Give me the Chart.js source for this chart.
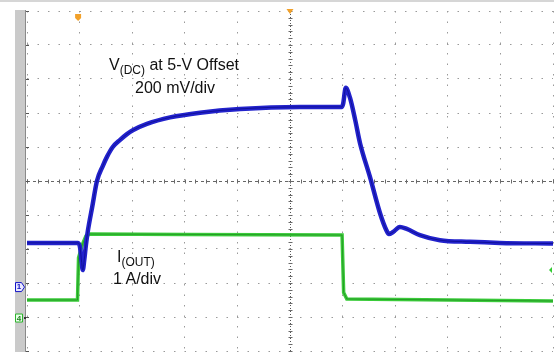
<!DOCTYPE html>
<html>
<head>
<meta charset="utf-8">
<script src="https://cdn.jsdelivr.net/npm/chart.js@4/dist/chart.umd.min.js"></script>
<style>
  html, body { margin: 0; padding: 0; background: #fff; }
  #wrap { position: relative; width: 554px; height: 352px; overflow: hidden; font-family: "Liberation Sans", Arial, sans-serif; color: #111; }
  canvas { position: absolute; left: 0; top: 0; }
  .lbl { position: absolute; white-space: nowrap; line-height: 1; }
  .lbl sub { font-size: 12px; vertical-align: -4px; line-height: 0; }
  .flag { position: absolute; font-size: 8px; line-height: 8px; font-weight: bold; text-align: center; }
</style>
</head>
<body>
<div id="wrap">
  <canvas id="c" width="554" height="352"></canvas>
  <div class="lbl" id="vlab" style="left:109px; top:57px; font-size:16px;">V<sub>(DC)</sub> at 5-V Offset</div>
  <div class="lbl" id="vdiv" style="left:135px; top:80px; font-size:16px;">200 mV/div</div>
  <div class="lbl" id="ilab" style="left:117px; top:249px; font-size:16px;">I<sub>(OUT)</sub></div>
  <div class="lbl" id="idiv" style="left:113px; top:271px; font-size:16px;">1 A/div</div>
  <div class="flag" style="left:16px; top:283px; width:6px; color:#1010c0;">1</div>
  <div class="flag" style="left:16px; top:315px; width:6px; color:#208020;">4</div>
</div>
<script>
// Time axis in divisions (0..10), amplitude in divisions (0..10, bottom to top)
const vTime = [0, 0.97, 1.01, 1.04, 1.06, 1.09, 1.12, 1.16, 1.24, 1.33, 1.44, 1.52, 1.63, 1.77, 1.90, 2.02, 2.28, 2.72, 3.29, 4.05, 5.19, 5.99, 6.01, 6.06, 6.14, 6.24, 6.33, 6.52, 6.71, 6.83, 6.88, 6.96, 7.09, 7.22, 7.47, 7.85, 8.42, 8.99, 10.0];
const vOut  = [3.18, 3.18, 3.03, 2.6, 2.38, 2.7, 3.12, 3.56, 4.24, 5.0, 5.44, 5.71, 6.0, 6.21, 6.38, 6.50, 6.68, 6.87, 7.01, 7.12, 7.18, 7.18, 7.27, 7.74, 7.45, 6.79, 6.12, 5.12, 4.06, 3.56, 3.44, 3.50, 3.65, 3.59, 3.41, 3.26, 3.21, 3.18, 3.16];

const iTime = [0, 0.96, 0.98, 1.05, 1.12, 1.20, 3.0, 5.99, 6.02, 6.08, 10.0];
const iOut  = [1.50, 1.50, 2.74, 3.12, 3.38, 3.44, 3.43, 3.41, 1.72, 1.53, 1.47];

const gridTicks = [0,1,2,3,4,5,6,7,8,9,10];
const chLevels = { ch1: 1.88, ch4: 0.97 };

const toPts = (xs, ys) => xs.map((x, i) => ({ x: x, y: ys[i] }));

const decor = {
  id: 'decor',
  beforeDraw(chart) {
    const c = chart.ctx;
    c.save();
    c.fillStyle = '#fff';
    c.fillRect(0, 0, chart.width, chart.height);
    c.fillStyle = '#d6d6d6';
    c.fillRect(0, 0, chart.width, 2);
    c.fillStyle = '#cacaca';
    c.fillRect(15, 10, 10, chart.height - 10);
    c.fillStyle = '#8a8a8a';
    c.fillRect(25, 10, 1, chart.height - 10);
    c.restore();
  },
  beforeDatasetsDraw(chart) {
    const c = chart.ctx, xs = chart.scales.x, ys = chart.scales.y;
    const cx = Math.round(xs.getPixelForValue(5)) + 0.5;
    const cy = Math.round(ys.getPixelForValue(5)) + 0.5;
    const a = chart.chartArea;
    c.save();
    c.strokeStyle = '#6a6a6a';
    c.lineWidth = 1;
    for (let v = 0; v <= 10.001; v += 0.2) {
      const px = Math.round(xs.getPixelForValue(v)) + 0.5;
      c.beginPath(); c.moveTo(px, cy - 2); c.lineTo(px, cy + 2); c.stroke();
      const py = Math.round(ys.getPixelForValue(v)) + 0.5;
      c.beginPath(); c.moveTo(cx - 2, py); c.lineTo(cx + 2, py); c.stroke();
    }
    c.strokeStyle = '#555';
    for (const v of gridTicks) {
      const py = Math.round(ys.getPixelForValue(v)) + 0.5;
      c.beginPath(); c.moveTo(a.left - 1, py); c.lineTo(a.left + 2, py); c.stroke();
    }
    c.restore();
  },
  afterDatasetsDraw(chart) {
    const c = chart.ctx, xs = chart.scales.x, ys = chart.scales.y;
    c.save();
    c.fillStyle = '#f2a12a';
    const tx = xs.getPixelForValue(1) - 1.5;
    c.beginPath();
    c.moveTo(tx - 3, 14); c.lineTo(tx + 3, 14); c.lineTo(tx + 3, 18); c.lineTo(tx, 21); c.lineTo(tx - 3, 18); c.closePath(); c.fill();
    const mx = xs.getPixelForValue(5);
    c.beginPath(); c.moveTo(mx - 3.5, 9); c.lineTo(mx + 3.5, 9); c.lineTo(mx, 14); c.closePath(); c.fill();
    const y1 = ys.getPixelForValue(chLevels.ch1);
    c.fillStyle = '#e8e8ff'; c.strokeStyle = '#1414c8'; c.lineWidth = 1;
    c.beginPath();
    c.moveTo(15.5, y1 - 4.5); c.lineTo(21.5, y1 - 4.5); c.lineTo(24.5, y1); c.lineTo(21.5, y1 + 4.5); c.lineTo(15.5, y1 + 4.5); c.closePath();
    c.fill(); c.stroke();
    const y4 = ys.getPixelForValue(chLevels.ch4);
    c.fillStyle = '#eaffea'; c.strokeStyle = '#2cb42c';
    c.beginPath();
    c.moveTo(15.5, y4 - 4); c.lineTo(22.5, y4 - 4); c.lineTo(22.5, y4 + 4); c.lineTo(15.5, y4 + 4); c.closePath();
    c.fill(); c.stroke();
    c.fillStyle = '#333'; c.fillRect(24, y4 - 1, 2, 2);
    const gy = ys.getPixelForValue(2.38);
    c.fillStyle = '#33cc33';
    c.beginPath(); c.moveTo(552, gy - 3); c.lineTo(549, gy); c.lineTo(552, gy + 3); c.closePath(); c.fill();
    c.restore();
  }
};

new Chart(document.getElementById('c'), {
  type: 'line',
  data: {
    datasets: [
      { label: 'V(DC)', data: toPts(vTime, vOut), borderColor: '#2222cc', borderWidth: 4.5, pointRadius: 0, cubicInterpolationMode: 'monotone', order: 1 },
      { label: 'V(DC) core', data: toPts(vTime, vOut), borderColor: '#10109a', borderWidth: 1, pointRadius: 0, cubicInterpolationMode: 'monotone', order: 0 },
      { label: 'I(OUT)', data: toPts(iTime, iOut), borderColor: '#3acb3a', borderWidth: 3.5, pointRadius: 0, tension: 0, order: 2 },
      { label: 'I(OUT) core', data: toPts(iTime, iOut), borderColor: '#1f8f1f', borderWidth: 0.8, pointRadius: 0, tension: 0, order: 1.5 }
    ]
  },
  options: {
    responsive: false,
    animation: false,
    devicePixelRatio: 1,
    layout: { padding: { left: 27, right: 1, top: 11, bottom: 1 } },
    plugins: { legend: { display: false }, tooltip: { enabled: false } },
    scales: {
      x: {
        type: 'linear', min: 0, max: 10,
        ticks: { display: false, stepSize: 1 },
        grid: { drawTicks: false, color: ctx => (ctx.tick && ctx.tick.value === 5) ? '#555' : '#9a9a9a', lineWidth: 1 },
        border: { display: false, dash: ctx => (ctx.tick && ctx.tick.value === 5) ? [1, 2] : [1.5, 9] }
      },
      y: {
        type: 'linear', min: 0, max: 10,
        ticks: { display: false, stepSize: 1 },
        grid: { drawTicks: false, color: ctx => (ctx.tick && ctx.tick.value === 5) ? '#666' : '#9a9a9a', lineWidth: 1 },
        border: { display: false, dash: ctx => (ctx.tick && ctx.tick.value === 5) ? [3, 3] : [1.5, 9] }
      }
    }
  },
  plugins: [decor]
});
</script>
</body>
</html>
